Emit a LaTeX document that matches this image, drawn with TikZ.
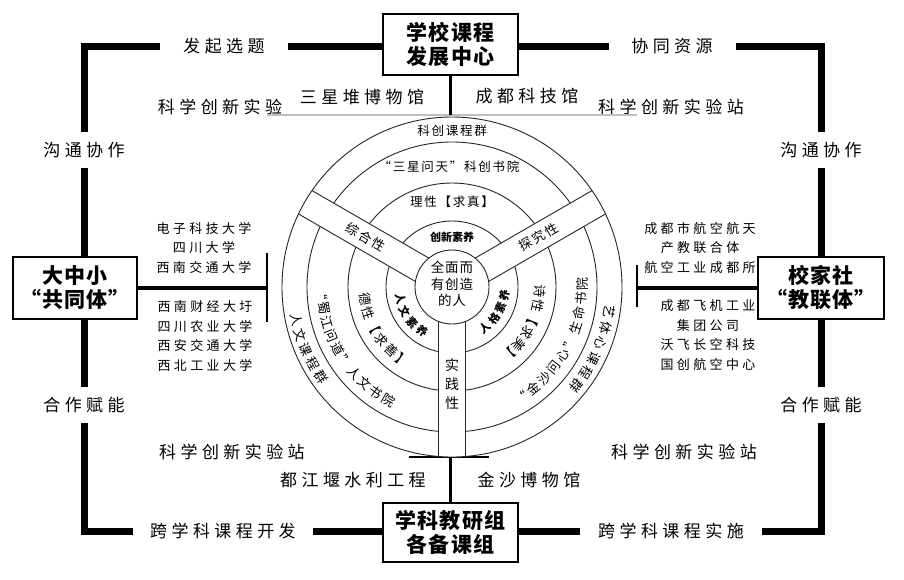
\documentclass[tikz,border=0pt]{standalone}
\usepackage{fontspec}
\setmainfont{Noto Sans CJK SC}
\newfontfamily\cjk{Noto Sans CJK SC}
\newfontfamily\cjkS[LetterSpace=26]{Noto Sans CJK SC}
\newfontfamily\cjkR[LetterSpace=14]{Noto Sans CJK SC}
\newfontfamily\cjkC[LetterSpace=6]{Noto Sans CJK SC}
\newfontfamily\cjkB[LetterSpace=5]{Noto Sans CJK SC}
\usetikzlibrary{calc}
\newcommand\arctxt[7][]{%
  \foreach \ch [count=\i] in {#7} {%
    \pgfmathsetmacro\ang{#4+(\i-1)*(#5)}%
    \node[arcch,#1,rotate=\ang+#6] (#2-\i) at (\ang:#3) {\ch};
  }}
\begin{document}
\begin{tikzpicture}[x=1pt,y=1pt,
  outerframe/.style={line width=7pt, line join=miter},
  mainbox/.style={draw, line width=1.8pt, fill=white, align=center, inner sep=0pt,
    font=\cjkB\bfseries\fontsize{21}{24}\selectfont},
  gaplbl/.style={fill=white, inner sep=0pt, minimum height=16pt, font=\cjkS\fontsize{17}{20}\selectfont},
  lbl/.style={inner sep=0pt, font=\cjkS\fontsize{17}{20}\selectfont},
  uni/.style={inner sep=0pt, align=center, font=\cjkS\fontsize{13}{19.5}\selectfont},
  ringl/.style={black!85, line width=0.9pt},
  conn/.style={line width=3.5pt},
  vbar/.style={line width=2.2pt},
  rtxt/.style={inner sep=0pt, font=\cjkR\fontsize{12.5}{14}\selectfont},
  arcch/.style={inner sep=0pt, font=\cjk\fontsize{13}{13}\selectfont},
  boldch/.style={font=\cjk\bfseries\fontsize{11}{11}\selectfont}
]
\fill[white] (0,0) rectangle (904,-579);
\useasboundingbox (0,0) rectangle (904,-579);

% outer frame
\coordinate (TL) at (84,-46); \coordinate (TR) at (821,-46);
\coordinate (BR) at (821,-531); \coordinate (BL) at (84,-531);
\draw[outerframe] (TL) -- (TR) -- (BR) -- (BL) -- cycle;

% frame labels (gaps)
\node[gaplbl, minimum width=128pt] (fq) at (224,-46) {发起选题};
\node[gaplbl, minimum width=127pt] (xt) at (672,-46) {协同资源};
\node[gaplbl, minimum width=180pt] (kf) at (223,-531) {跨学科课程开发};
\node[gaplbl, minimum width=182pt] (ks) at (671,-531) {跨学科课程实施};
\node[gaplbl, minimum height=36pt] (gl) at (84,-150) {沟通协作};
\node[gaplbl, minimum height=36pt] (gr) at (821,-150) {沟通协作};
\node[gaplbl, minimum height=36pt] (hl) at (84,-405) {合作赋能};
\node[gaplbl, minimum height=36pt] (hr) at (821,-405) {合作赋能};

% boxes
\node[mainbox, minimum width=135pt, minimum height=61pt] (top) at (450.5,-44.5) {学校课程\\发展中心};
\node[mainbox, minimum width=135pt, minimum height=59pt] (bot) at (450.5,-532.5) {学科教研组\\各备课组};
\node[mainbox, minimum width=124pt, minimum height=62pt] (lbox) at (75,-288) {大中小\\“共同体”};
\node[mainbox, minimum width=126pt, minimum height=62pt] (rbox) at (821,-288) {校家社\\“教联体”};

% other labels
\node[lbl] (kx1) at (220,-107) {科学创新实验};
\node[lbl] (sxd) at (362,-97) {三星堆博物馆};
\node[lbl] (cdk) at (527,-96) {成都科技馆};
\node[lbl] (kx2) at (671,-107) {科学创新实验站};
\node[lbl] (kx3) at (232,-452) {科学创新实验站};
\node[lbl] (kx4) at (684,-452) {科学创新实验站};
\node[lbl] (djy) at (353,-480) {都江堰水利工程};
\node[lbl] (jsb) at (529,-480) {金沙博物馆};

% university lists
\node[uni] (ul1) at (204,-248) {电子科技大学\\四川大学\\西南交通大学};
\node[uni] (ul2) at (205,-336) {西南财经大圩\\四川农业大学\\西安交通大学\\西北工业大学};
\node[uni] (ur1) at (700,-248) {成都市航空航天\\产教联合体\\航空工业成都所};
\node[uni] (ur2) at (708,-335) {成都飞机工业\\集团公司\\沃飞长空科技\\国创航空中心};

% connectors
\coordinate (gL) at (267,-115); \coordinate (gR) at (637,-115);
\draw[gray!50, line width=1.6pt] (gL) -- (gR);
\draw[conn] (top.south) -- (top.south |- gL);
\coordinate (bl1) at (409,-457); \coordinate (bl2) at (489,-457);
\draw[line width=1.2pt] (bl1) -- (bl2);
\draw[conn] (bot.north) -- (bot.north |- bl1);
\coordinate (lbT) at (267,-253); \coordinate (lbB) at (267,-322);
\draw[vbar] (lbT) -- (lbB);
\draw[conn] (lbox.east) -- (lbox.east -| lbT);
\coordinate (rbT) at (637,-265); \coordinate (rbB) at (637,-307);
\draw[vbar] (rbT) -- (rbB);
\draw[conn] (rbox.west) -- (rbox.west -| rbT);

% circle diagram
\begin{scope}[shift={(452,-287)}]
  \coordinate (O) at (0,0);
  \draw[ringl] (O) circle[radius=145pt];
  \draw[ringl] (O) circle[radius=104pt];
  \draw[ringl] (O) circle[radius=66pt];
  \begin{scope}
    \clip (0,0) circle[radius=170pt];
    \foreach \a in {30,150,270} {
      \begin{scope}[rotate=\a]
        \fill[white] (0,-13.5) rectangle (175,13.5);
        \draw[ringl] (0,-13.5) -- (175,-13.5) (0,13.5) -- (175,13.5);
      \end{scope}
    }
  \end{scope}
  \draw[ringl] (O) circle[radius=170pt];
  \draw[ringl, fill=white] (O) circle[radius=37pt];

  % center
  \node[inner sep=0pt, align=center, font=\cjkC\fontsize{13.5}{16.5}\selectfont] (ctr) at (0,3) {全面而\\有创造\\的人};
  % top sector
  \node[rtxt] (t1) at (0,156) {科创课程群};
  \node[rtxt] (t2) at (-3,120) {“三星问天”科创书院};
  \node[rtxt] (t3) at (0,85) {理性【求真】};
  \node[inner sep=0pt, font=\cjk\bfseries\fontsize{11}{11}\selectfont] (t4) at (0,50) {创新素养};
  % bands
  \node[rtxt, font=\cjkR\fontsize{13}{14}\selectfont, rotate=-30] (zh) at (150:100) {综合性};
  \node[rtxt, font=\cjkR\fontsize{13}{14}\selectfont, rotate=30] (tj) at (30:100) {探究性};
  \node[inner sep=0pt, align=center, font=\cjk\fontsize{14}{19}\selectfont] (sj) at (0,-97) {实\\践\\性};
  % left sector
  \arctxt{La}{159}{192}{5.6}{90}{人,文,课,程,群}
  \arctxt{Lb}{130}{183}{6.4}{90}{“,蜀,江,问,道,”,人,文,书,院}
  \arctxt{Lc}{88}{188}{9.6}{90}{德,性,【,求,善,】}
  \arctxt[boldch]{Ld}{53}{193}{14.5}{90}{人,文,素,养}
  % right sector
  \arctxt[boldch]{Rd}{53}{-51}{14}{90}{人,格,素,养}
  \arctxt{Rc}{88}{-3}{-9.4}{-90}{诗,性,【,求,美,】}
  \arctxt{Rb}{130}{-58}{6.6}{90}{“,金,沙,问,心,”,生,命,书,院}
  \arctxt{Ra}{159}{-9}{-5.9}{-90}{艺,体,心,课,程,群}
\end{scope}
\end{tikzpicture}
\end{document}
